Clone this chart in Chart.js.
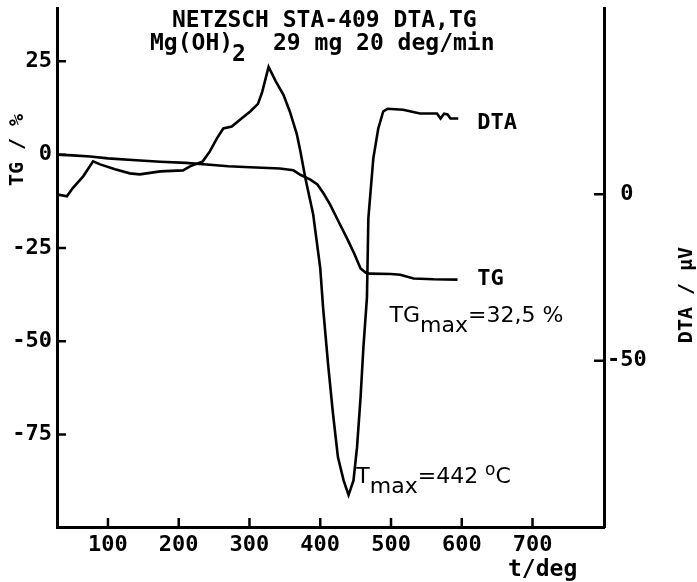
<!DOCTYPE html>
<html>
<head>
<meta charset="utf-8">
<script src="https://cdn.jsdelivr.net/npm/chart.js@4"></script>
<style>
  html, body { margin: 0; padding: 0; background: #fff; }
  #chart { display: block; }
</style>
</head>
<body>
<canvas id="chart" width="697" height="582"></canvas>
<script>
// TG curve, temperature (deg) and mass change (%)
const tgTemp = [28, 50, 75, 100, 140, 174, 210, 244, 270, 301, 343, 362, 372, 386, 396, 405, 414, 426, 438, 448, 457, 464, 470, 500, 513, 532, 560, 594];
const tgVal = [0, -0.2, -0.5, -1.0, -1.5, -1.9, -2.2, -2.7, -3.1, -3.4, -3.7, -4.2, -5.4, -6.7, -8.0, -10.5, -13.4, -18.0, -22.5, -26.5, -30.5, -31.6, -31.9, -32.0, -32.2, -33.2, -33.4, -33.5];

// DTA curve, temperature (deg) and signal (µV)
const dtaTemp = [28, 42, 50, 65, 79, 89, 110, 131, 145, 174, 206, 216, 234, 244, 254, 263, 275, 287, 301, 312, 318, 327, 337, 348, 357, 367, 372, 379, 390, 400, 404, 411, 418, 425, 433, 440, 447, 452, 457, 461, 466, 468, 475, 482, 489, 495, 517, 541, 565, 570, 575, 580, 584, 595];
const dtaVal = [0, -0.6, 1.8, 5.4, 9.9, 9.0, 7.5, 6.3, 6.0, 6.9, 7.2, 8.4, 9.9, 12.9, 16.8, 19.8, 20.4, 22.5, 24.9, 27.2, 30.8, 38.3, 34.0, 29.9, 24.9, 18.0, 12.9, 4.8, -6.0, -22.2, -34.0, -50.9, -65.9, -79.0, -86.0, -90.4, -86.0, -76.0, -61.0, -46.0, -31.0, -7.2, 10.8, 19.8, 24.9, 25.7, 25.4, 24.3, 24.3, 22.8, 24.2, 24.0, 22.8, 22.8];

// tick labels
const xTicks = [100, 200, 300, 400, 500, 600, 700];
const tgTicks = [25, 0, -25, -50, -75];
const dtaTicks = [0, -50];

const monoBold = (size) => ({ family: 'DejaVu Sans Mono', size: size, weight: 'bold' });

function toPoints(xs, ys) {
  return xs.map((t, i) => ({ x: t, y: ys[i] }));
}

function noEdgePadding(axis) {
  axis.paddingTop = 0;
  axis.paddingBottom = 0;
  axis.paddingLeft = 0;
  axis.paddingRight = 0;
}

const plotText = {
  id: 'plotText',
  afterDraw(chart) {
    const ctx = chart.ctx;
    const x = chart.scales.x;
    const yTG = chart.scales.yTG;
    const yDTA = chart.scales.yDTA;
    ctx.save();
    ctx.fillStyle = '#000';
    ctx.strokeStyle = '#000';
    ctx.lineWidth = 2.5;

    // tick marks pointing into the plot
    ctx.beginPath();
    xTicks.forEach((v) => {
      const px = x.getPixelForValue(v);
      ctx.moveTo(px, x.top);
      ctx.lineTo(px, x.top - 9);
    });
    tgTicks.forEach((v) => {
      const py = yTG.getPixelForValue(v);
      ctx.moveTo(yTG.right, py);
      ctx.lineTo(yTG.right + 9, py);
    });
    dtaTicks.forEach((v) => {
      const py = yDTA.getPixelForValue(v);
      ctx.moveTo(yDTA.left, py);
      ctx.lineTo(yDTA.left - 10, py);
    });
    ctx.stroke();

    // title lines
    ctx.textBaseline = 'alphabetic';
    ctx.textAlign = 'left';
    ctx.font = 'bold 23px "DejaVu Sans Mono"';
    ctx.fillText('NETZSCH STA-409 DTA,TG', 172, 27);
    ctx.fillText('Mg(OH)', 150, 50);
    ctx.fillText('2', 232, 61);
    ctx.fillText('29 mg 20 deg/min', 273, 50);

    // axis titles
    ctx.font = 'bold 20px "DejaVu Sans Mono"';
    ctx.textAlign = 'center';
    ctx.textBaseline = 'middle';
    ctx.save();
    ctx.translate(18, 150);
    ctx.rotate(-Math.PI / 2);
    ctx.fillText('TG / %', 0, 0);
    ctx.restore();
    ctx.save();
    ctx.translate(687, 295);
    ctx.rotate(-Math.PI / 2);
    ctx.fillText('DTA / µV', 0, 0);
    ctx.restore();
    ctx.font = 'bold 23px "DejaVu Sans Mono"';
    ctx.textAlign = 'left';
    ctx.textBaseline = 'alphabetic';
    ctx.fillText('t/deg', 508, 576);

    // curve labels
    ctx.font = 'bold 22px "DejaVu Sans Mono"';
    ctx.textBaseline = 'middle';
    ctx.fillText('DTA', x.getPixelForValue(622), yDTA.getPixelForValue(21.3));
    ctx.fillText('TG', x.getPixelForValue(622), yTG.getPixelForValue(-33.5));

    // annotations
    ctx.textBaseline = 'alphabetic';
    ctx.font = '22px "DejaVu Sans"';
    let px = x.getPixelForValue(498);
    let py = 322;
    ctx.fillText('TG', px, py);
    px += ctx.measureText('TG').width;
    ctx.fillText('max', px, py + 10);
    px += ctx.measureText('max').width;
    ctx.fillText('=32,5 %', px, py);

    px = x.getPixelForValue(451);
    py = 483;
    ctx.fillText('T', px, py);
    px += ctx.measureText('T').width;
    ctx.fillText('max', px, py + 10);
    px += ctx.measureText('max').width;
    ctx.fillText('=442 ', px, py);
    px += ctx.measureText('=442 ').width;
    ctx.font = '17px "DejaVu Sans"';
    ctx.fillText('o', px, py - 8);
    px += ctx.measureText('o').width;
    ctx.font = '22px "DejaVu Sans"';
    ctx.fillText('C', px, py);
    ctx.restore();
  }
};

function mainEvent() {
  const target = document.querySelector('#chart');

  const data = {
    datasets: [
      {
        label: 'DTA',
        data: toPoints(dtaTemp, dtaVal),
        yAxisID: 'yDTA',
        borderColor: '#000',
        borderWidth: 2.6,
        pointRadius: 0,
        tension: 0
      },
      {
        label: 'TG',
        data: toPoints(tgTemp, tgVal),
        yAxisID: 'yTG',
        borderColor: '#000',
        borderWidth: 2.6,
        pointRadius: 0,
        tension: 0
      }
    ]
  };

  const config = {
    type: 'line',
    data: data,
    options: {
      responsive: false,
      animation: false,
      devicePixelRatio: 1,
      layout: { padding: { top: 8, left: 0, right: 0, bottom: 0 } },
      plugins: {
        legend: { display: false },
        tooltip: { enabled: false }
      },
      scales: {
        x: {
          type: 'linear',
          position: 'bottom',
          min: 28,
          max: 801,
          grid: { display: false, drawTicks: false },
          border: { display: true, color: '#000', width: 3 },
          afterBuildTicks: (axis) => { axis.ticks = xTicks.map((v) => ({ value: v })); },
          afterFit: (axis) => { axis.height = 55; noEdgePadding(axis); },
          ticks: { color: '#000', font: monoBold(22), padding: 5, maxRotation: 0, autoSkip: false }
        },
        yTG: {
          type: 'linear',
          position: 'left',
          min: -99.8,
          max: 39.3,
          grid: { display: false, drawTicks: false },
          border: { display: true, color: '#000', width: 3 },
          afterBuildTicks: (axis) => { axis.ticks = tgTicks.map((v) => ({ value: v })); },
          afterFit: (axis) => { axis.width = 57; noEdgePadding(axis); },
          ticks: { color: '#000', font: monoBold(22), padding: 5, autoSkip: false }
        },
        yDTA: {
          type: 'linear',
          position: 'right',
          min: -100,
          max: 56.0,
          grid: { display: false, drawTicks: false },
          border: { display: true, color: '#000', width: 3 },
          afterBuildTicks: (axis) => { axis.ticks = dtaTicks.map((v) => ({ value: v })); },
          afterFit: (axis) => { axis.width = 93; noEdgePadding(axis); },
          ticks: { color: '#000', font: monoBold(22), padding: 3, crossAlign: 'center', autoSkip: false }
        }
      }
    },
    plugins: [plotText]
  };

  return new Chart(target, config);
}

document.addEventListener('DOMContentLoaded', () => mainEvent());
</script>
</body>
</html>
